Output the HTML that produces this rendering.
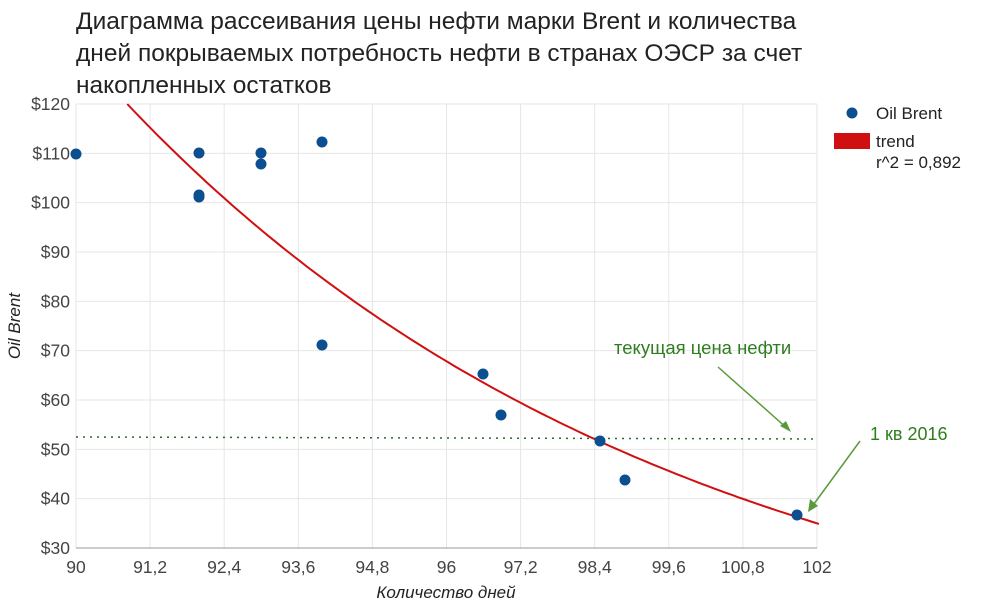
<!DOCTYPE html>
<html><head><meta charset="utf-8"><style>
body{margin:0;background:#fff;}
svg{display:block;font-family:"Liberation Sans",sans-serif;}
</style></head><body>
<svg id="s" width="987" height="610" xmlns="http://www.w3.org/2000/svg">
<text x="76" y="29" font-size="24.5" fill="#222">Диаграмма рассеивания цены нефти марки Brent и количества</text>
<text x="76" y="61" font-size="24.5" fill="#222">дней покрываемых потребность нефти в странах ОЭСР за счет</text>
<text x="76" y="93" font-size="24.5" fill="#222">накопленных остатков</text>
<g id="grid" stroke="#e6e6e6" stroke-width="1"></g>
<g id="lab" font-size="17.5" fill="#444"></g>
<text transform="translate(20,326) rotate(-90)" text-anchor="middle" font-size="17" font-style="italic" fill="#222">Oil Brent</text>
<text x="446" y="598" text-anchor="middle" font-size="17" font-style="italic" fill="#222">Количество дней</text>
<line x1="76" y1="437" x2="817" y2="439" stroke="#2a6a2a" stroke-width="1.5" stroke-dasharray="2,5"/>
<path id="trend" fill="none" stroke="#d01010" stroke-width="2"/>
<g id="pts" fill="#0b4f91"></g>
<circle cx="852" cy="113" r="5.5" fill="#0b4f91"/>
<text x="876" y="119" font-size="17" fill="#222">Oil Brent</text>
<rect x="834" y="133" width="36" height="16" fill="#d01010"/>
<text x="876" y="147" font-size="17" fill="#222">trend</text>
<text x="876" y="168" font-size="17" fill="#222">r^2 = 0,892</text>
<text x="614" y="354" font-size="18.5" fill="#2e7d1e">текущая цена нефти</text>
<line x1="718" y1="367" x2="789" y2="430" stroke="#5a9a3a" stroke-width="1.5"/>
<path d="M780,426 L791,432 L786,421Z" fill="#5a9a3a"/>
<text x="870" y="440" font-size="18" fill="#2e7d1e">1 кв 2016</text>
<line x1="860" y1="441" x2="811" y2="508" stroke="#5a9a3a" stroke-width="1.5"/>
<path d="M808,512 L810,499 L818,506Z" fill="#5a9a3a"/>
</svg>
<script>
var ns="http://www.w3.org/2000/svg";
function X(v){return 76+(v-90)*61.75;}
function Y(v){return 548-(v-30)*4.9333;}
var g=document.getElementById('grid'),l=document.getElementById('lab');
function el(p,t,a){var e=document.createElementNS(ns,t);for(var k in a)e.setAttribute(k,a[k]);p.appendChild(e);return e;}
var xl=["90","91,2","92,4","93,6","94,8","96","97,2","98,4","99,6","100,8","102"];
for(var i=0;i<=10;i++){var x=X(90+i*1.2);el(g,'line',{x1:x,x2:x,y1:104,y2:548});
var t=el(l,'text',{x:x,y:573,'text-anchor':'middle'});t.textContent=xl[i];}
for(var v=30;v<=120;v+=10){var y=Y(v);el(g,'line',{x1:76,x2:817,y1:y,y2:y,stroke:v==30?'#999':'#e6e6e6'});
var t=el(l,'text',{x:70,y:y+6,'text-anchor':'end'});t.textContent='$'+v;}
var d='';for(var x=90.83;x<=102.06;x+=0.1){var y=120*Math.exp(-0.1103*(x-90.83));d+=(d?'L':'M')+X(x).toFixed(1)+','+Y(y).toFixed(1);}
document.getElementById('trend').setAttribute('d',d);
var P=[[76,154],[199,153],[199,195],[199,197],[261,153],[261,164],[322,142],[322,345],[483,374],[501,415],[600,441],[625,480],[797,515]];
var pg=document.getElementById('pts');P.forEach(function(p){el(pg,'circle',{cx:p[0],cy:p[1],r:5.5});});
</script>
</body></html>
